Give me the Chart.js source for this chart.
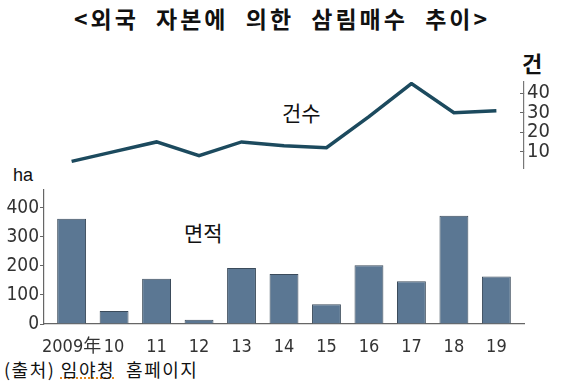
<!DOCTYPE html>
<html>
<head>
<meta charset="utf-8">
<script src="https://cdn.jsdelivr.net/npm/chart.js@4.4.1/dist/chart.umd.min.js"></script>
<style>
  body { margin: 0; width: 564px; height: 383px; position: relative; background: #fff; overflow: hidden; }
  .txt { position: absolute; line-height: 1; white-space: pre; color: #111; font-family: "Noto Sans CJK KR", sans-serif; }
  #title { top: 7px; left: 0; width: 564px; text-align: center; font-size: 23px; font-weight: bold; letter-spacing: 3px; word-spacing: 9px; }
  canvas { position: absolute; left: 0; }
</style>
</head>
<body>
<div id="title" class="txt">&lt;외국 자본에 의한 삼림매수 추이&gt;</div>
<div class="txt" style="left:522px;top:51px;font-size:22px;font-weight:bold;">건</div>
<div class="txt" style="left:282px;top:102px;font-size:21px;">건수</div>
<div class="txt" style="left:184px;top:222px;font-size:21px;">면적</div>
<div class="txt" style="left:13px;top:166px;font-size:18px;font-family:'Liberation Sans',sans-serif;">ha</div>
<div class="txt" style="left:4px;top:360px;font-size:18px;letter-spacing:1.5px;">(출처) <span style="text-decoration:underline dotted #e07800;">임야청</span>  홈페이지</div>

<canvas id="countChart" width="564" height="120" style="top:60px"></canvas>
<canvas id="areaChart" width="564" height="175" style="top:180px"></canvas>

<script>
// Data
const years = ["2009年", "10", "11", "12", "13", "14", "15", "16", "17", "18", "19"];
const counts = [5, 10, 15, 8, 15, 13, 12, 28, 45, 30, 31];   // 건
const areas = [362, 45, 156, 15, 193, 172, 68, 202, 147, 372, 163];   // ha
const countTicks = [10, 20, 30, 40];
const areaTicks = [0, 100, 200, 300, 400];

const tickFont = "'Liberation Sans Narrow', 'DejaVu Sans Condensed', 'Noto Sans CJK KR', sans-serif";
Chart.defaults.font.family = tickFont;
Chart.defaults.color = "#333";

// shared x range so both charts line up
const xMin = -0.65;
const xMax = 10.65;

// Upper chart: number of purchases (line)
const ctxC = document.getElementById("countChart").getContext("2d");
const countChart = new Chart(ctxC, {
  type: "line",
  data: {
    datasets: [
      {
        data: counts.map((v, i) => ({ x: i, y: v })),
        borderColor: "#1c4a5e",
        borderWidth: 3.5,
        pointRadius: 0,
        tension: 0,
        borderJoinStyle: "miter",
        yAxisID: "yCount",
      },
    ],
  },
  options: {
    responsive: false,
    animation: false,
    layout: { padding: { left: 44, top: 22, bottom: 12, right: 0 } },
    plugins: { legend: { display: false }, tooltip: { enabled: false } },
    scales: {
      x: { type: "linear", min: xMin, max: xMax, display: false },
      yCount: {
        position: "right",
        min: 1.6,
        max: 45.8,
        afterBuildTicks: (s) => { s.ticks = countTicks.map((v) => ({ value: v })); },
        afterFit: (s) => { s.width = 40; s.paddingTop = 0; s.paddingBottom = 0; },
        // negative length puts the tick marks on the inner side, like the original
        grid: { drawOnChartArea: false, tickLength: -4, color: "#666" },
        border: { color: "#777", width: 1.2 },
        ticks: { padding: 7, font: { size: 20 }, color: "#333" },
      },
    },
  },
});

// Lower chart: area bought (bars)
const ctxA = document.getElementById("areaChart").getContext("2d");
const areaChart = new Chart(ctxA, {
  type: "bar",
  data: {
    datasets: [
      {
        data: areas.map((v, i) => ({ x: i, y: v })),
        backgroundColor: "#5b7793",
        borderColor: "#3b4b5b",
        borderWidth: 1,
        barPercentage: 0.68,
        categoryPercentage: 1,
        yAxisID: "yArea",
      },
    ],
  },
  options: {
    responsive: false,
    animation: false,
    layout: { padding: { left: 0, top: 10, bottom: 0, right: 40 } },
    plugins: { legend: { display: false }, tooltip: { enabled: false } },
    scales: {
      x: {
        type: "linear",
        min: xMin,
        max: xMax,
        offset: false,
        afterBuildTicks: (s) => { s.ticks = years.map((y, i) => ({ value: i })); },
        afterFit: (s) => { s.height = 31; s.paddingLeft = 0; s.paddingRight = 0; },
        grid: { display: false },
        border: { color: "#666", width: 1.2 },
        ticks: {
          autoSkip: false,
          maxRotation: 0,
          padding: 5,
          font: { size: 18 },
          color: "#333",
          callback: (v) => years[v],
        },
      },
      yArea: {
        position: "left",
        min: 0,
        max: 461,
        afterBuildTicks: (s) => { s.ticks = areaTicks.map((v) => ({ value: v })); },
        afterFit: (s) => { s.width = 44; s.paddingTop = 0; s.paddingBottom = 0; },
        grid: { drawOnChartArea: false, tickLength: 4, color: "#666" },
        border: { color: "#666", width: 1.2 },
        ticks: { padding: 1, font: { size: 19 }, color: "#333" },
      },
    },
  },
});
</script>
</body>
</html>
